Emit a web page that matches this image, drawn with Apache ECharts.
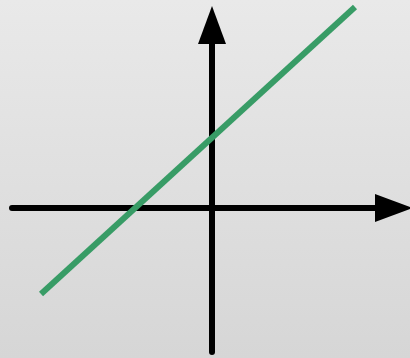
<!DOCTYPE html>
<html>
<head>
<meta charset="utf-8">
<script src="https://cdn.jsdelivr.net/npm/echarts@6/dist/echarts.min.js"></script>
<style>
    html, body { margin: 0; padding: 0; }
    #main { width: 410px; height: 358px; }
</style>
</head>
<body>
<div id="main"></div>
<script>
// axis ranges (units = px from the origin of the diagram)
var xRange = [-200, 178];
var yRange = [-144, 178];
// the straight line, two end points [x, y]
var lineData = [[-171, -86], [143, 201]];

var chart = echarts.init(document.getElementById('main'));

var axisLine = function (offset) {
    return {
        show: true,
        onZero: true,
        symbol: ['none', 'triangle'],
        symbolSize: [28, 38],
        symbolOffset: [0, offset],
        lineStyle: { color: '#000', width: 6 }
    };
};

var option = {
    animation: false,
    backgroundColor: {
        type: 'linear', x: 0, y: 0, x2: 0, y2: 1,
        colorStops: [
            { offset: 0, color: '#e9e9e9' },
            { offset: 1, color: '#d6d6d6' }
        ]
    },
    grid: { left: 12, right: 20, top: 30, bottom: 6 },
    xAxis: {
        type: 'value',
        min: xRange[0],
        max: xRange[1],
        axisLine: axisLine(4),
        axisTick: { show: false },
        axisLabel: { show: false },
        splitLine: { show: false }
    },
    yAxis: {
        type: 'value',
        min: yRange[0],
        max: yRange[1],
        axisLine: axisLine(5),
        axisTick: { show: false },
        axisLabel: { show: false },
        splitLine: { show: false }
    },
    series: [{
        type: 'line',
        data: lineData,
        clip: false,
        showSymbol: false,
        symbol: 'none',
        lineStyle: { color: '#389c66', width: 6, cap: 'butt' },
        z: 20
    }]
};

chart.setOption(option);
</script>
</body>
</html>
